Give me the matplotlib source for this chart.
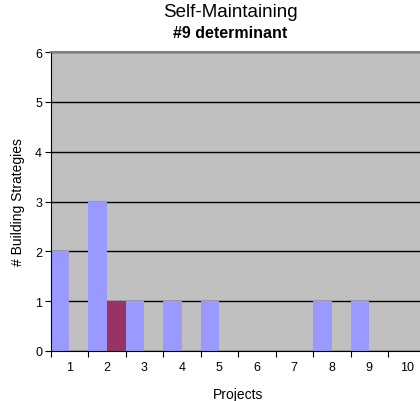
import numpy as np
import matplotlib
matplotlib.use('Agg')
import matplotlib.pyplot as plt

plt.rcParams['font.family'] = ['Liberation Sans', 'DejaVu Sans']

projects = ['1', '2', '3', '4', '5', '6', '7', '8', '9', '10']
series_a = [2, 3, 1, 1, 1, 0, 0, 1, 1, 0]
series_b = [0, 1, 0, 0, 0, 0, 0, 0, 0, 0]
y_ticks = [0, 1, 2, 3, 4, 5, 6]

fig = plt.figure(figsize=(4.2, 4.02), dpi=100)
ax = fig.add_axes([50.5 / 420, 50 / 402, 375 / 420, 299 / 402])
ax.set_facecolor('#C0C0C0')

x = np.arange(1, len(projects) + 1)
w = 0.5
ax.bar(x - w / 2, series_a, width=w, color='#9999FF', linewidth=0, zorder=2)
ax.bar(x + w / 2, series_b, width=w, color='#993366', linewidth=0, zorder=2)

ax.set_xlim(0.5, len(projects) + 0.5)
ax.set_ylim(0, 6)

# category boundaries get the tick marks, centers get the labels
ax.set_xticks(np.arange(0.5, len(projects) + 1, 1))
ax.set_xticklabels([])
ax.set_xticks(x, minor=True)
ax.set_xticklabels(projects, minor=True, fontsize=9)
ax.tick_params(axis='x', which='major', length=4, width=0.8, direction='out')
ax.tick_params(axis='x', which='minor', length=0, pad=7)

ax.set_yticks(y_ticks)
ax.set_yticklabels([str(v) for v in y_ticks], fontsize=9)
ax.tick_params(axis='y', length=4, width=0.8, direction='out', pad=2)

ax.set_axisbelow(True)
ax.grid(axis='y', color='black', linewidth=1.0)
ax.grid(axis='x', visible=False)

ax.spines['right'].set_visible(False)
ax.spines['top'].set_color('#808080')
ax.spines['top'].set_linewidth(1.5)
ax.spines['left'].set_color('black')
ax.spines['bottom'].set_color('black')

ax.set_xlabel('Projects', fontsize=10, labelpad=10)
ax.set_ylabel('# Building Strategies', fontsize=10, labelpad=7)

fig.text(0.549, 0.97, 'Self-Maintaining', fontsize=13.5, ha='center', va='center')
fig.text(0.548, 0.916, '#9 determinant', fontsize=11.5, fontweight='bold', ha='center', va='center')

fig.savefig('out.png', dpi=100)
